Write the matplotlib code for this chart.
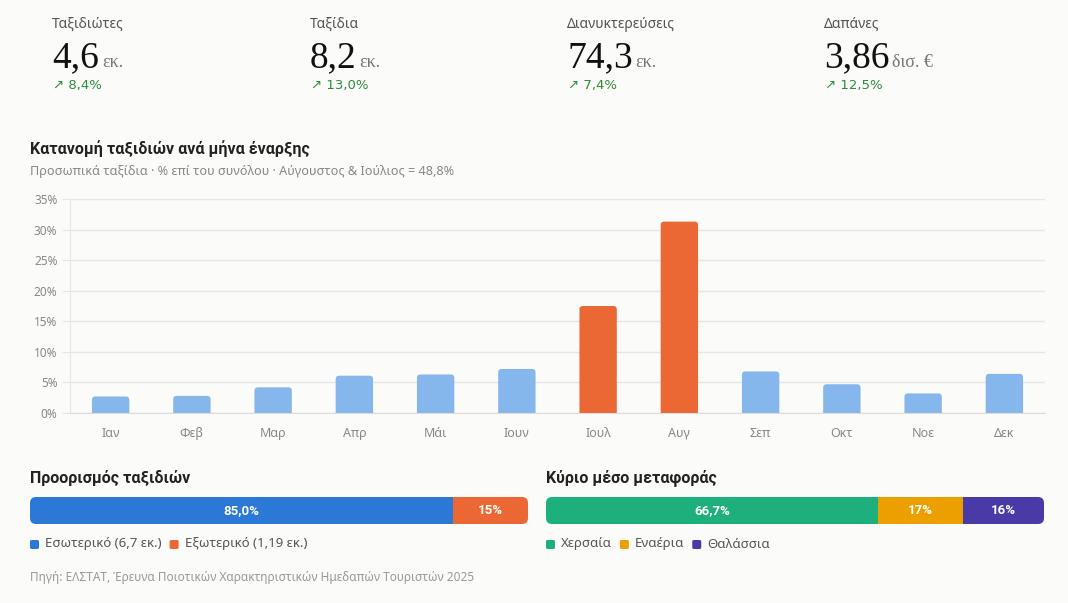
import matplotlib
matplotlib.use("Agg")
import matplotlib.pyplot as plt
from matplotlib.patches import FancyBboxPatch, Rectangle

W, H = 1068, 603

# KPI cards
kpi_labels = ["Ταξιδιώτες", "Ταξίδια", "Διανυκτερεύσεις", "Δαπάνες"]
kpi_values = ["4,6", "8,2", "74,3", "3,86"]
kpi_units = ["εκ.", "εκ.", "εκ.", "δισ. €"]
kpi_changes = ["↗ 8,4%", "↗ 13,0%", "↗ 7,4%", "↗ 12,5%"]

# monthly distribution (% of trips)
months = ["Ιαν", "Φεβ", "Μαρ", "Απρ", "Μάι", "Ιουν",
          "Ιουλ", "Αυγ", "Σεπ", "Οκτ", "Νοε", "Δεκ"]
month_share = [2.7, 2.8, 4.2, 6.1, 6.3, 7.2, 17.5, 31.3, 6.8, 4.7, 3.2, 6.4]
peak_months = ["Ιουλ", "Αυγ"]

# destination split
dest_labels = ["Εσωτερικό (6,7 εκ.)", "Εξωτερικό (1,19 εκ.)"]
dest_share = [85.0, 15.0]
dest_text = ["85,0%", "15%"]

# transport split
mode_labels = ["Χερσαία", "Εναέρια", "Θαλάσσια"]
mode_share = [66.7, 17.0, 16.3]
mode_text = ["66,7%", "17%", "16%"]

BG = "#fbfbfa"
SANS = ["Noto Sans", "DejaVu Sans"]
BOLD = ["Roboto", "DejaVu Sans"]
SERIF = ["Liberation Serif", "DejaVu Serif"]
plt.rcParams["font.family"] = SANS


def px(x, y):
    return x / W, 1 - y / H


fig = plt.figure(figsize=(W / 100, H / 100), dpi=100, facecolor=BG)

# ---- KPI row
for i, x in enumerate([52, 310, 567, 824]):
    fig.text(*px(x, 24), kpi_labels[i], fontsize=10, color="#555555", va="center")
    t = fig.text(*px(x, 67), kpi_values[i], fontsize=27, color="#111111",
                 va="baseline", family=SERIF)
    fig.canvas.draw()
    bb = t.get_window_extent()
    fig.text(bb.x1 / W + 3 / W, px(0, 67)[1], kpi_units[i], fontsize=13,
             color="#777777", va="baseline", family=SERIF)
    fig.text(*px(x + 1, 85), kpi_changes[i], fontsize=9.5, color="#2e8b3a",
             va="center", family=["DejaVu Sans"])

# ---- monthly bars
fig.text(*px(30, 149), "Κατανομή ταξιδιών ανά μήνα έναρξης", fontsize=11.5,
         fontweight="bold", color="#222222", va="center", family=BOLD)
fig.text(*px(30, 172), "Προσωπικά ταξίδια · % επί του συνόλου · Αύγουστος & Ιούλιος = 48,8%",
         fontsize=9.1, color="#888888", va="center")

ax = fig.add_axes([70 / W, 1 - 413 / H, 975 / W, 214 / H])
ax.set_facecolor(BG)
colors = ["#eb6834" if m in peak_months else "#85b6ec" for m in months]
bars = ax.bar(range(len(months)), month_share, width=0.46, color=colors, zorder=3)
ax.set_xlim(-0.5, len(months) - 0.5)
ax.set_ylim(0, 35)

# swap plain bars for ones with slightly rounded tops
px_x = 975 / len(months)
px_y = 214 / 35
for b in bars:
    r = 3.5
    p = FancyBboxPatch((b.get_x(), -2), b.get_width(), b.get_height() + 2,
                       boxstyle=f"round,pad=0,rounding_size={r / px_x}",
                       mutation_aspect=px_x / px_y, facecolor=b.get_facecolor(),
                       edgecolor="none", zorder=3)
    ax.add_patch(p)
    b.set_visible(False)

ax.set_yticks(range(0, 36, 5))
ax.set_yticklabels([f"{v}%" for v in range(0, 36, 5)])
ax.set_xticks(range(len(months)))
ax.set_xticklabels(months)
ax.tick_params(axis="y", length=6, color="#e6e6e6", labelsize=8.5, labelcolor="#888888", pad=3)
ax.tick_params(axis="x", length=0, labelsize=9, labelcolor="#888888", pad=10)
ax.grid(axis="y", color="#e6e6e6", linewidth=1, zorder=0)
for s in ["top", "right"]:
    ax.spines[s].set_visible(False)
ax.spines["left"].set_color("#e6e6e6")
ax.spines["bottom"].set_color("#dddddd")
ax.spines["bottom"].set_zorder(4)


def stacked(left, title, shares, texts, cols, labels):
    fig.text(*px(left, 478), title, fontsize=11.5, fontweight="bold",
             color="#222222", va="center", family=BOLD)
    bw, bh = 498, 27
    a = fig.add_axes([left / W, 1 - 524 / H, bw / W, bh / H])
    a.set_xlim(0, bw)
    a.set_ylim(0, bh)
    a.axis("off")
    clip = FancyBboxPatch((0, 0), bw, bh, boxstyle="round,pad=0,rounding_size=6",
                          transform=a.transData, facecolor="none", edgecolor="none")
    a.add_patch(clip)
    start = 0
    for s, t, c in zip(shares, texts, cols):
        w = s / 100 * bw
        r = Rectangle((start, 0), w, bh, facecolor=c, edgecolor="none")
        a.add_patch(r)
        r.set_clip_path(clip)
        a.text(start + w / 2, bh / 2, t, ha="center", va="center", color="white",
               fontsize=9.5, fontweight="bold", family=BOLD)
        start += w
    # legend
    x = left
    for lab, c in zip(labels, cols):
        fig.patches.append(FancyBboxPatch((x / W, 1 - 549 / H), 9 / W, 9 / H,
                                          boxstyle="round,pad=0,rounding_size=0.002",
                                          transform=fig.transFigure, facecolor=c,
                                          edgecolor="none"))
        t = fig.text((x + 15) / W, 1 - 544 / H, lab, fontsize=9.5, color="#555555",
                     va="center")
        fig.canvas.draw()
        x = t.get_window_extent().x1 + 8


stacked(30, "Προορισμός ταξιδιών", dest_share, dest_text,
        ["#2b78d6", "#eb6834"], dest_labels)
stacked(546, "Κύριο μέσο μεταφοράς", mode_share, mode_text,
        ["#1db07c", "#eba000", "#4a3aa8"], mode_labels)

fig.text(*px(30, 578), "Πηγή: ΕΛΣΤΑΤ, Έρευνα Ποιοτικών Χαρακτηριστικών Ημεδαπών Τουριστών 2025",
         fontsize=8.5, color="#999999", va="center")

fig.savefig("out.png", dpi=100, facecolor=BG)
